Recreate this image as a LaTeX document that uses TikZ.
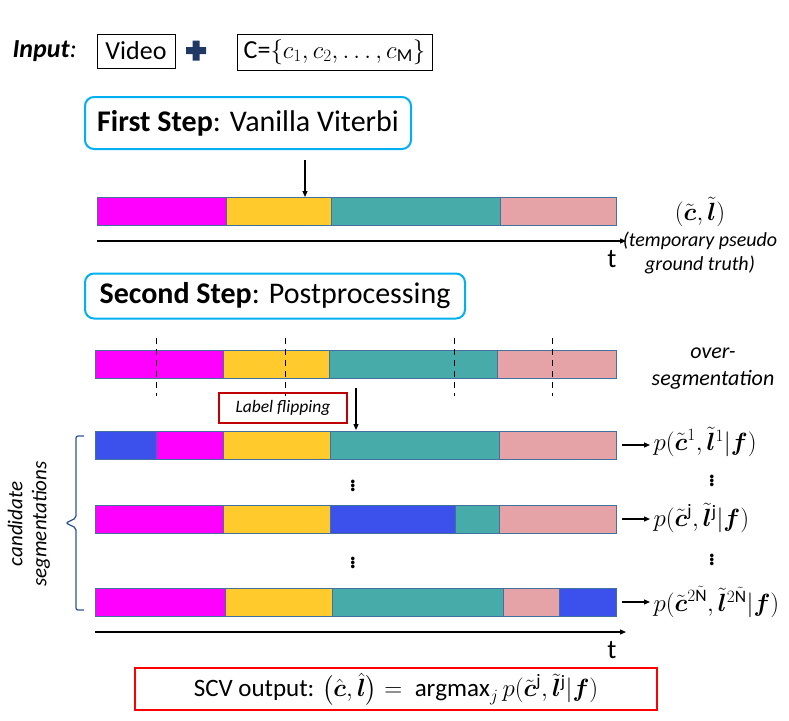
\documentclass[tikz,border=0pt]{standalone}
\usepackage{fontspec}
\setmainfont{Carlito}
\usepackage{amsmath}
\usepackage{tikz}
\usetikzlibrary{arrows.meta,positioning,decorations.pathreplacing}
\definecolor{segmag}{HTML}{FF00FF}
\definecolor{segyel}{HTML}{FFCA2C}
\definecolor{segteal}{HTML}{47ACA9}
\definecolor{segpink}{HTML}{E5A2A7}
\definecolor{segblue}{HTML}{3C50EC}
\definecolor{segedge}{HTML}{41719C}
\definecolor{stepcyan}{HTML}{00B0F0}
\definecolor{flipred}{HTML}{C00000}
\definecolor{navy}{HTML}{1F3864}
\definecolor{bracenavy}{HTML}{2F5597}
\newcommand{\BarH}{28}
\newcommand{\TC}{\tilde{\boldsymbol{c}}}
\newcommand{\TL}{\tilde{\boldsymbol{l}}{}}
\newcommand{\SegBar}[2]{\foreach \xa/\xb/\col in {#2}
  \filldraw[seg,fill=\col] (\xa,#1) rectangle (\xb,#1+\BarH);}

\begin{document}
\begin{tikzpicture}[x=1pt,y=-1pt,
  inbox/.style={draw,line width=1pt,inner sep=3pt,font=\fontsize{26}{30}\selectfont},
  stepbox/.style={draw=stepcyan,line width=2pt,rounded corners=9pt,inner xsep=8pt,inner ysep=9pt},
  seg/.style={draw=segedge,line width=.8pt},
  axis/.style={line width=1.2pt,-{Triangle[length=6pt,width=5pt]}},
  arr/.style={line width=1.2pt,-{Triangle[length=6pt,width=5pt]}},
  cut/.style={line width=1pt,dash pattern=on 6pt off 5pt},
  plabel/.style={anchor=west,font=\fontsize{25}{29}\selectfont},
  dotsv/.style={font=\fontsize{30}{34}\selectfont},
  note/.style={font=\fontsize{20}{24}\selectfont\itshape,align=center}]
\useasboundingbox (0,0) rectangle (789,720);
% input
\node[anchor=west,font=\fontsize{26}{30}\selectfont] (inlbl) at (9,51) {\textbf{\textit{Input}}\textit{:}};
\node[inbox,minimum width=78pt,minimum height=34pt] (video) at (136,51) {Video};
\fill[navy] (186,47) rectangle (206,54) (192.5,40.5) rectangle (199.5,60.5);
\node[inbox,minimum width=195pt,minimum height=36pt] (cset) at (334.5,52) {C=$\{c_1,c_2,\ldots,c_{\mathrm{M}}\}$};

% first step
\node[stepbox,font=\fontsize{30}{34}\selectfont,minimum width=326pt,minimum height=52pt] (first) at (248,123) {\textbf{First Step}: Vanilla Viterbi};
\coordinate (a1) at (305,160);
\coordinate (a1e) at (305,197);
\draw[arr] (a1) -- (a1e);
\SegBar{197}{97/226/segmag,226/331/segyel,331/500/segteal,500/616/segpink}
\coordinate (t1a) at (97,241);
\coordinate (t1b) at (626,241);
\draw[axis] (t1a) -- (t1b);
\node[font=\fontsize{27}{30}\selectfont] (t1) at (612,259) {t};
\node[font=\fontsize{23}{27}\selectfont] (gt) at (700,212) {$(\TC,\TL)$};
\node[note] (gtnote) at (700,253) {(temporary pseudo\\ground truth)};

% second step
\node[stepbox,font=\fontsize{30}{34}\selectfont,minimum width=380pt,minimum height=45pt] (second) at (275,296) {\textbf{Second Step}: Postprocessing};
\SegBar{350}{95/223/segmag,223/329/segyel,329/497/segteal,497/616/segpink}
\foreach \cx in {156,285,454,552}
  \draw[cut] (\cx,338) -- (\cx,396);
\node[note,font=\fontsize{22}{27}\selectfont\itshape] (overseg) at (713,369) {over-\\segmentation};
\node[draw=flipred,line width=1.5pt,minimum width=128pt,minimum height=30pt,font=\fontsize{17.5}{20}\selectfont\itshape] (flip) at (283,408) {Label flipping};
\coordinate (a2) at (356,388);
\coordinate (a2e) at (356,430);
\draw[arr] (a2) -- (a2e);

% candidates
\SegBar{431}{95/156/segblue,156/223/segmag,223/330/segyel,330/499/segteal,499/616/segpink}
\SegBar{505}{95/223/segmag,223/330/segyel,330/455/segblue,455/499/segteal,499/616/segpink}
\SegBar{588}{95/225/segmag,225/332/segyel,332/503/segteal,503/559/segpink,559/616/segblue}
\coordinate (r1) at (616,445);
\coordinate (r2) at (616,519);
\coordinate (r3) at (616,602);
\node[plabel] (p1) at (650,442) {$p(\TC^{1},\TL^{1}|\boldsymbol{f})$};
\node[plabel] (p2) at (650,518) {$p(\TC^{\mathrm{j}},\TL^{\mathrm{j}}|\boldsymbol{f})$};
\node[plabel] (p3) at (650,602) {$p(\TC^{2\tilde{\mathrm{N}}},\TL^{2\tilde{\mathrm{N}}}|\boldsymbol{f})$};
\draw[arr,shorten <=6pt] (r1) -- (p1.west |- r1);
\draw[arr,shorten <=6pt] (r2) -- (p2.west |- r2);
\draw[arr,shorten <=6pt] (r3) -- (p3.west |- r3);
\node[dotsv] (d1) at (353,483) {$\vdots$};
\node[dotsv] (d2) at (353,560) {$\vdots$};
\node[dotsv] (d3) at (712,478) {$\vdots$};
\node[dotsv] (d4) at (712,557) {$\vdots$};
\coordinate (t2a) at (95,632);
\coordinate (t2b) at (626,632);
\draw[axis] (t2a) -- (t2b);
\node[font=\fontsize{27}{30}\selectfont] (t2) at (612,650) {t};
% bracket round the candidates
\coordinate (bra) at (84,436);
\coordinate (brb) at (84,610);
\coordinate (brtip) at (66,523);
\draw[bracenavy,line width=1.3pt,rounded corners=2pt] (bra) -- (76,436) -- (76,518) -- (brtip) -- (76,528) -- (76,610) -- (brb);
\node[note,font=\fontsize{21}{24}\selectfont\itshape,rotate=90] (cand) at (29,524) {candidate\\segmentations};

% output
\node[draw=red,line width=2pt,minimum width=522pt,minimum height=42pt,font=\fontsize{25}{29}\selectfont] (out) at (396,689)
  {SCV output: $\bigl(\hat{\boldsymbol{c}},\hat{\boldsymbol{l}}\bigr)=\ \operatorname{argmax}_j p(\TC^{\mathrm{j}},\TL^{\mathrm{j}}|\boldsymbol{f})$};
\end{tikzpicture}
\end{document}
